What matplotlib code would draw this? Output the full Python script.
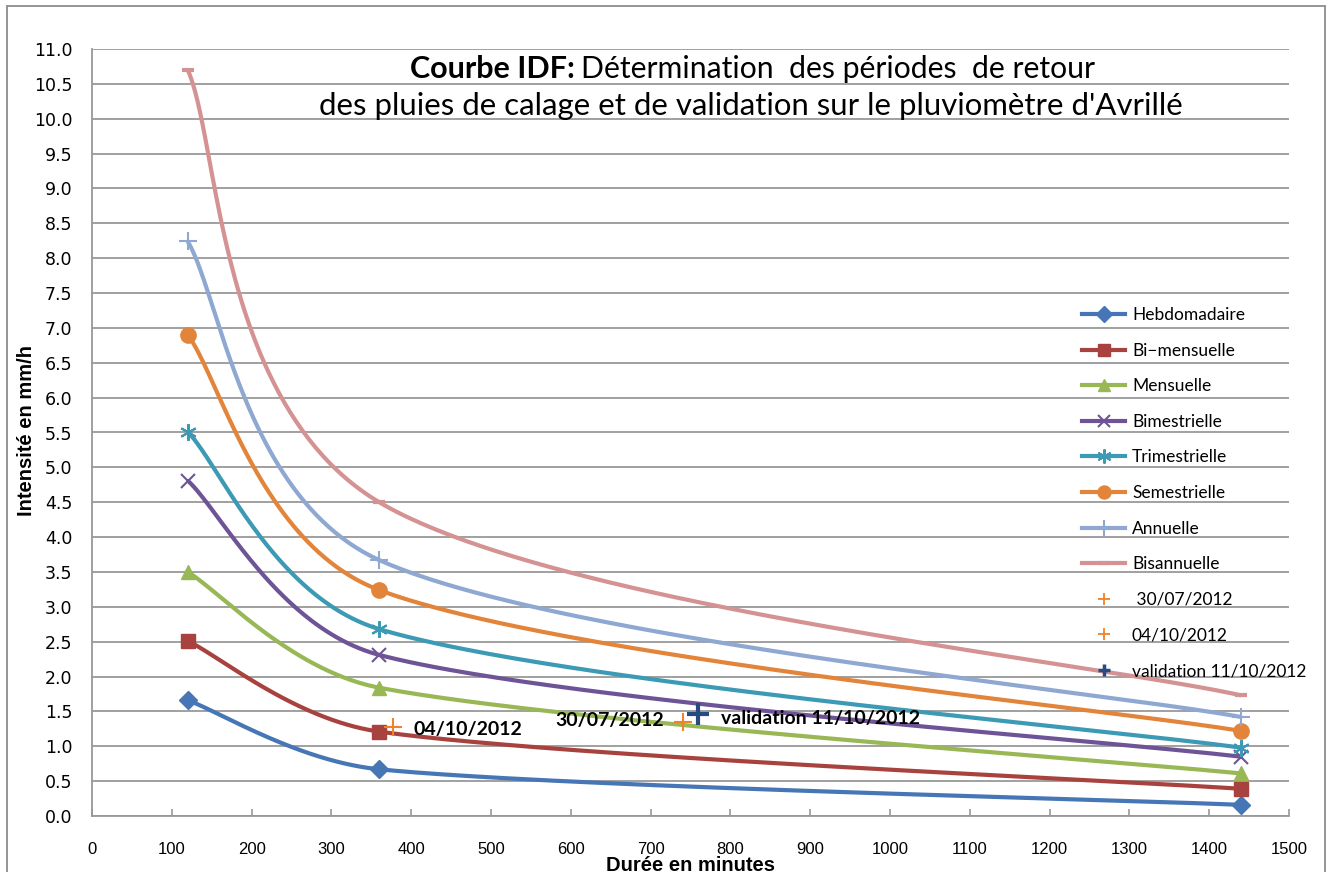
import numpy as np
import matplotlib
matplotlib.use("Agg")
import matplotlib.pyplot as plt
from matplotlib.lines import Line2D
from matplotlib.patches import Rectangle

# ---- data -------------------------------------------------------------
durations = [120, 360, 1440]  # minutes

series_names = ["Hebdomadaire", "Bi\u2212mensuelle", "Mensuelle", "Bimestrielle",
                "Trimestrielle", "Semestrielle", "Annuelle", "Bisannuelle"]
hebdomadaire = [1.66, 0.67, 0.16]
bi_mensuelle = [2.51, 1.21, 0.39]
mensuelle = [3.50, 1.84, 0.61]
bimestrielle = [4.81, 2.31, 0.85]
trimestrielle = [5.51, 2.68, 0.98]
semestrielle = [6.90, 3.24, 1.22]
annuelle = [8.24, 3.67, 1.42]
bisannuelle = [10.70, 4.50, 1.73]

event_labels = ["30/07/2012", "04/10/2012", "validation 11/10/2012"]
event_x = [741, 377, 760]
event_y = [1.35, 1.27, 1.46]

x_ticks = list(range(0, 1501, 100))
y_ticks = [i * 0.5 for i in range(23)]

# ---- style ------------------------------------------------------------
colors = ["#4676B5", "#A8423F", "#98B855", "#6E5497",
          "#3C9AB4", "#E2843A", "#8EA8D2", "#D49292"]
markers = ["D", "s", "^", "x", (6, 2, 0), "o", "+", "_"]
msizes = [9, 10, 10, 10, 12, 11, 13, 9]
mews = [1, 1, 1, 1.5, 1.5, 1, 1.5, 3]
event_colors = ["#F0822A", "#F0822A", "#264B7E"]

ARIAL = "Liberation Sans"
SANS = ["Lato", "DejaVu Sans"]
grid_col = "#989898"

W, H = 1334, 872
fig = plt.figure(figsize=(W / 100, H / 100), dpi=100)
ax = fig.add_axes([92 / W, 1 - 816 / H, (1289 - 92) / W, (816 - 49) / H])
ax.set_xlim(0, 1500)
ax.set_ylim(0, 11)


def excel_smooth(ax, x, y, n=100, cap=0.4):
    """Spreadsheet-style smoothed line: cubic Bezier segments whose control
    points follow the neighbour chord (1/6 tension), capped at a fraction of
    the segment length, all computed in display space."""
    pts = ax.transData.transform(np.column_stack([x, y]))
    P = np.vstack([pts[0], pts, pts[-1]])
    t = np.linspace(0, 1, n)[:, None]
    out = []
    for i in range(1, len(P) - 2):
        p0, p1, p2, p3 = P[i - 1], P[i], P[i + 1], P[i + 2]
        d12 = np.hypot(*(p2 - p1))
        d02 = np.hypot(*(p2 - p0))
        d13 = np.hypot(*(p3 - p1))
        f1 = min(1 / 6, cap * d12 / d02) if d02 > 0 else 0
        f2 = min(1 / 6, cap * d12 / d13) if d13 > 0 else 0
        c1 = p1 + (p2 - p0) * f1
        c2 = p2 - (p3 - p1) * f2
        seg = ((1 - t) ** 3 * p1 + 3 * (1 - t) ** 2 * t * c1
               + 3 * (1 - t) * t ** 2 * c2 + t ** 3 * p2)
        out.append(seg if i == 1 else seg[1:])
    xy = ax.transData.inverted().transform(np.vstack(out))
    return xy[:, 0], xy[:, 1]


all_series = [hebdomadaire, bi_mensuelle, mensuelle, bimestrielle,
              trimestrielle, semestrielle, annuelle, bisannuelle]

handles = []
for k, vals in enumerate(all_series):
    sx, sy = excel_smooth(ax, durations, vals)
    ax.plot(sx, sy, color=colors[k], lw=3, solid_capstyle="butt",
            zorder=3 + k * 0.1)
    ax.plot(durations, vals, ls="none", marker=markers[k], ms=msizes[k],
            mew=mews[k], color=colors[k], mec=colors[k], mfc=colors[k],
            zorder=3.05 + k * 0.1)
    handles.append(Line2D([], [], color=colors[k], lw=3, marker=markers[k],
                          ms=msizes[k] * 0.85, mew=mews[k], mec=colors[k],
                          mfc=colors[k]))

# rain events
for lab, ex, ey, ec in zip(event_labels, event_x, event_y, event_colors):
    big = lab.startswith("validation")
    ax.plot([ex], [ey], ls="none", marker="+", ms=16 if big else 13,
            mew=3 if big else 1.5, color=ec, zorder=5)
    handles.append(Line2D([], [], ls="none", marker="+", ms=8,
                          mew=2.5 if big else 1.3, color=ec))

label_offsets = {"30/07/2012": (-14, 1, "right"),
                 "04/10/2012": (15, -1.5, "left"),
                 "validation 11/10/2012": (16, -3, "left")}
for lab, ex, ey in zip(event_labels, event_x, event_y):
    dx, dy, ha = label_offsets[lab]
    ax.annotate(lab, (ex, ey), xytext=(dx, dy), textcoords="offset points",
                ha=ha, va="center", fontsize=14, fontweight="bold",
                family=SANS, color="black", zorder=6)

# ---- axes -------------------------------------------------------------
ax.set_xticks(x_ticks)
ax.set_yticks(y_ticks)
ax.set_yticklabels([f"{v:.1f}" for v in y_ticks])
ax.grid(axis="y", color=grid_col, lw=1.3)
ax.set_axisbelow(True)
for s in ["top", "right"]:
    ax.spines[s].set_visible(False)
for s in ["left", "bottom"]:
    ax.spines[s].set_color(grid_col)
    ax.spines[s].set_linewidth(1.3)
ax.tick_params(axis="y", length=0, pad=14, labelsize=12.5)
ax.tick_params(axis="x", direction="in", length=5, width=1.2, color=grid_col,
               pad=19, labelsize=12)
for lbl in ax.get_yticklabels():
    lbl.set_family("DejaVu Sans")
for lbl in ax.get_xticklabels():
    lbl.set_family(ARIAL)

ax.set_ylabel("Intensité en mm/h", family=ARIAL, fontweight="bold",
              fontsize=14.5, va="center")
ax.yaxis.set_label_coords(-0.055, 0.503)
ax.set_xlabel("Durée en minutes", family=ARIAL, fontweight="bold",
              fontsize=14.5, va="center")
ax.xaxis.set_label_coords(0.4996, -0.064)

# ---- legend -----------------------------------------------------------
leg_labels = series_names + [" 30/07/2012", "04/10/2012",
                             "validation 11/10/2012"]
leg = fig.legend(handles, leg_labels, loc="upper left",
                 bbox_to_anchor=(1082 / W, 1 - 307 / H),
                 frameon=False, borderpad=0, borderaxespad=0,
                 handlelength=2.5, handletextpad=0.38, labelspacing=1.13,
                 prop={"family": SANS, "size": 12.5})

# ---- title ------------------------------------------------------------
fig.text(575 / W, 1 - 78 / H, "Courbe IDF:", ha="right", va="baseline",
         fontsize=22, fontweight="bold", family=SANS)
fig.text(581 / W, 1 - 78 / H, "Détermination  des périodes  de retour",
         ha="left", va="baseline", fontsize=21.7, family=SANS)
fig.text(751 / W, 1 - 115 / H,
         "des pluies de calage et de validation sur le pluviomètre d'Avrillé",
         ha="center", va="baseline", fontsize=22.4, family=SANS)

# chart-area frame
fig.add_artist(Rectangle((7 / W, -0.05), (1325 - 7) / W, 0.05 + 1 - 6 / H,
                         transform=fig.transFigure, fill=False,
                         edgecolor="#8c8c8c", lw=1.3, clip_on=False))

fig.savefig("out.png", dpi=100)
